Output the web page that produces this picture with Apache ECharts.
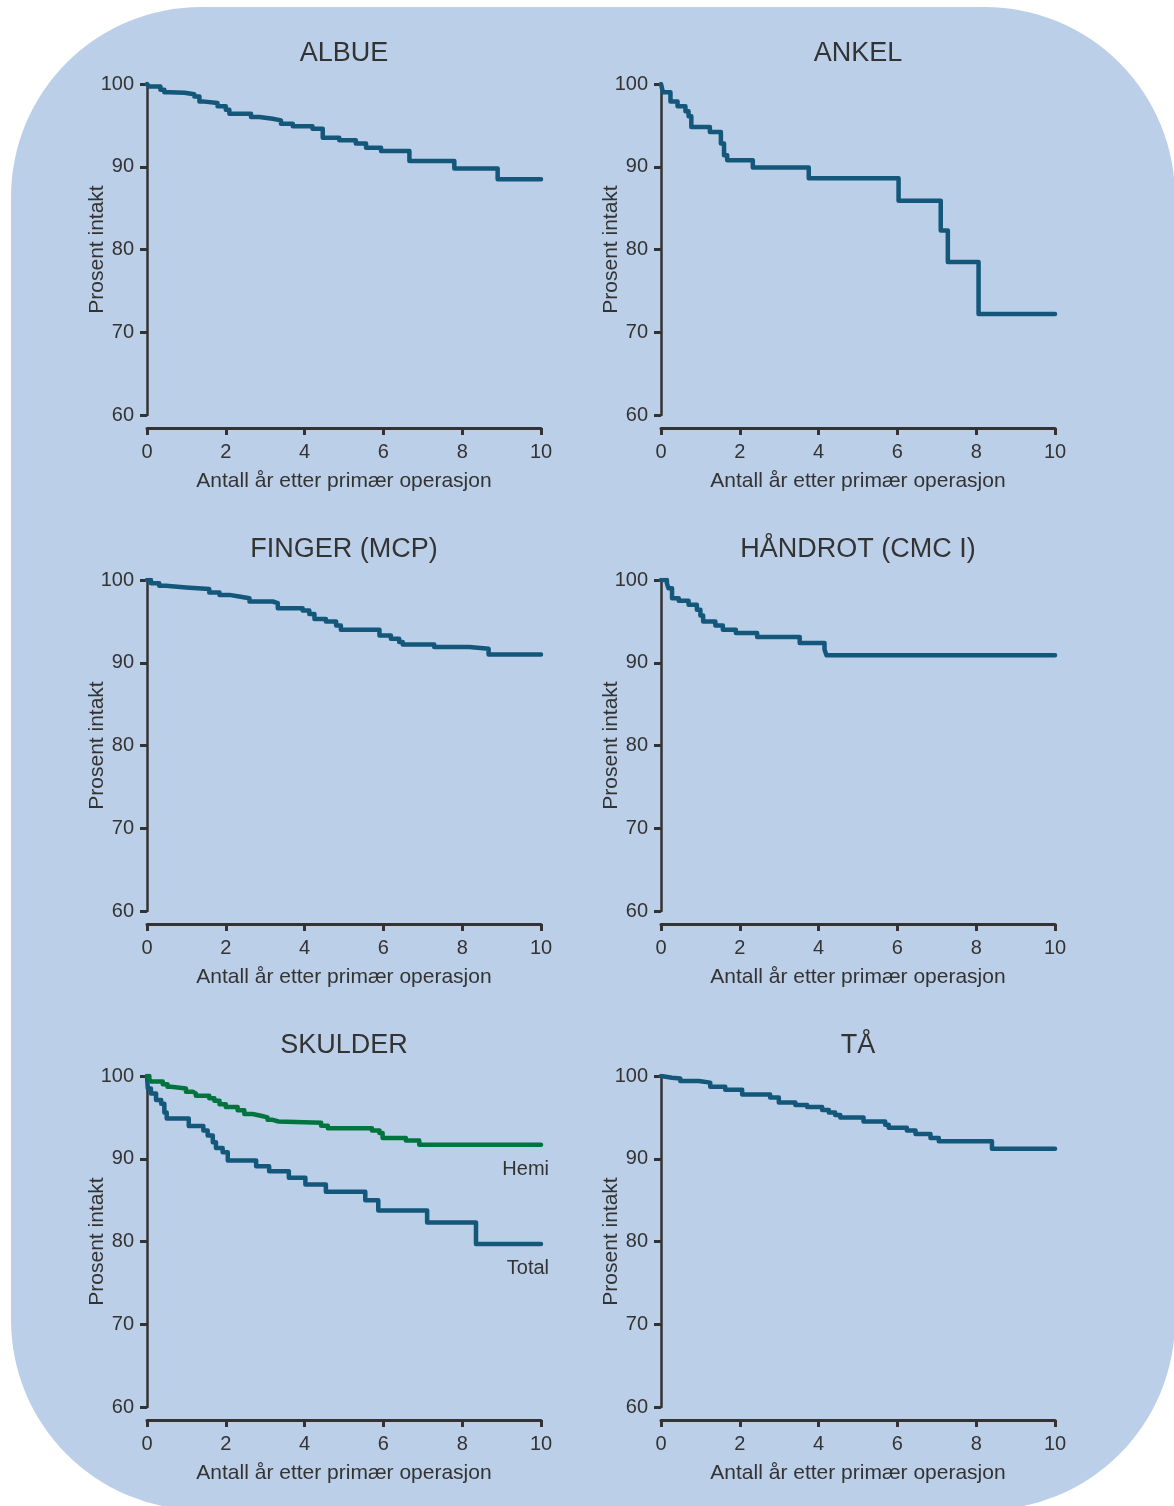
<!DOCTYPE html>
<html>
<head>
<meta charset="utf-8">
<script src="https://cdn.jsdelivr.net/npm/echarts@6/dist/echarts.min.js"></script>
<style>
html,body{margin:0;padding:0;background:#fff;}
#c{width:1174px;height:1506px;}
</style>
</head>
<body>
<div id="c"></div>
<script>
// ---- data ----
const panelTitles = ['ALBUE', 'ANKEL', 'FINGER (MCP)', 'HÅNDROT (CMC I)', 'SKULDER', 'TÅ'];
const yAxisName = 'Prosent intakt';
const xAxisName = 'Antall år etter primær operasjon';
const yMin = 60, yMax = 100, yStep = 10;
const xMin = 0, xMax = 10, xStep = 2;

const albueYears  = [0,0.05,0.34,0.44,0.57,0.95,1.2,1.33,1.41,1.79,2.0,2.09,2.64,2.85,3.19,3.4,3.7,4.2,4.46,4.88,5.3,5.56,5.94,6.66,7.8,8.9,10];
const albueValues = [100,99.7,99.3,99.0,98.95,98.75,98.5,97.9,97.7,97.3,96.9,96.4,96.0,95.8,95.6,95.2,94.9,94.6,93.5,93.2,92.8,92.3,91.9,90.7,89.8,88.5,88.5];

const ankelYears  = [0,0.05,0.24,0.42,0.62,0.7,0.77,1.24,1.52,1.6,1.68,2.33,3.75,6.03,7.1,7.28,8.06,10];
const ankelValues = [100,99.0,97.9,97.3,96.7,96.1,94.8,94.2,92.8,91.4,90.8,89.9,88.6,85.9,82.3,78.5,72.2,72.2];

const fingerYears  = [0,0.1,0.31,0.48,0.99,1.58,1.84,2.09,2.34,2.6,3.19,3.32,3.95,4.12,4.25,4.54,4.8,4.92,5.9,6.19,6.4,6.49,7.29,8.18,8.67,10];
const fingerValues = [100,99.6,99.3,99.1,98.9,98.5,98.2,98.0,97.8,97.4,97.2,96.6,96.3,95.9,95.3,95.0,94.5,94.0,93.3,92.9,92.5,92.2,91.9,91.7,91.0,91.0];

const handrotYears  = [0,0.15,0.19,0.28,0.45,0.7,0.91,1.0,1.07,1.38,1.57,1.9,2.44,3.52,4.15,4.2,10];
const handrotValues = [100,99.6,99.0,97.8,97.5,97.0,96.4,95.7,95.0,94.5,94.0,93.6,93.1,92.4,91.6,90.9,90.9];

const skulderTotalYears  = [0,0.02,0.1,0.23,0.36,0.44,0.5,1.06,1.43,1.54,1.67,1.75,1.92,2.05,2.77,3.1,3.6,4.02,4.54,5.54,5.87,7.11,8.35,10];
const skulderTotalValues = [100,98.5,97.9,97.1,96.65,95.6,94.85,93.95,93.4,92.8,92.0,91.3,90.8,89.8,89.1,88.5,87.7,86.9,86.0,85.0,83.75,82.3,79.7,79.7];

const skulderHemiYears  = [0,0.06,0.1,0.4,0.52,0.61,0.99,1.16,1.24,1.58,1.71,1.84,2.0,2.3,2.47,2.68,2.89,3.06,3.19,3.34,4.42,4.59,5.71,5.9,5.98,6.57,6.91,10];
const skulderHemiValues = [100,99.6,99.35,99.0,98.7,98.5,98.1,97.9,97.6,97.3,97.0,96.6,96.25,95.85,95.4,95.2,95.0,94.7,94.5,94.35,94.0,93.7,93.4,93.1,92.5,92.2,91.7,91.7];

const taYears  = [0,0.05,0.28,0.49,0.96,1.25,1.63,2.06,2.77,2.99,3.41,3.71,4.09,4.26,4.42,4.55,5.14,5.69,5.78,6.24,6.46,6.84,7.05,8.4,10];
const taValues = [100,99.8,99.7,99.4,99.2,98.7,98.35,97.75,97.4,96.8,96.5,96.25,95.9,95.6,95.3,95.0,94.5,94.1,93.75,93.4,93.0,92.5,92.1,91.2,91.2];

// ---- build ----
const BLUE = '#13577a';
const GREEN = '#00743f';
const TXT = '#333333';
const FONT = '"Liberation Sans", Arial, Helvetica, sans-serif';

function zip(xs, ys) { return xs.map((x, i) => [x, ys[i]]); }

const panelSeries = [
  [{ name: 'ALBUE', data: zip(albueYears, albueValues), color: BLUE }],
  [{ name: 'ANKEL', data: zip(ankelYears, ankelValues), color: BLUE }],
  [{ name: 'FINGER', data: zip(fingerYears, fingerValues), color: BLUE }],
  [{ name: 'HÅNDROT', data: zip(handrotYears, handrotValues), color: BLUE }],
  [{ name: 'Total', data: zip(skulderTotalYears, skulderTotalValues), color: BLUE, label: 'Total' },
   { name: 'Hemi', data: zip(skulderHemiYears, skulderHemiValues), color: GREEN, label: 'Hemi' }],
  [{ name: 'TÅ', data: zip(taYears, taValues), color: BLUE }]
];

const colLeft = [147, 661];
const rowTop = [84, 580, 1076];
const gw = 394, gh = 331;

const grids = [], xAxes = [], yAxes = [], series = [], titles = [];
panelTitles.forEach((t, i) => {
  const col = i % 2, row = Math.floor(i / 2);
  grids.push({ left: colLeft[col], top: rowTop[row], width: gw, height: gh, containLabel: false });
  titles.push({
    text: t, left: colLeft[col] + gw / 2, top: rowTop[row] - 44, textAlign: 'center', padding: 0,
    textStyle: { fontFamily: FONT, fontSize: 27, fontWeight: 'normal', color: TXT }
  });
  xAxes.push({
    gridIndex: i, type: 'value', min: xMin, max: xMax, interval: xStep, offset: 13,
    name: xAxisName, nameLocation: 'middle', nameGap: 43, nameMoveOverlap: false,
    nameTextStyle: { fontFamily: FONT, fontSize: 21, color: TXT },
    axisLine: { onZero: false, lineStyle: { color: '#333', width: 3 } },
    axisTick: { inside: false, length: 7, lineStyle: { color: '#333', width: 3 } },
    axisLabel: { margin: 14, fontFamily: FONT, fontSize: 20, color: TXT },
    splitLine: { show: false }
  });
  yAxes.push({
    gridIndex: i, type: 'value', min: yMin, max: yMax, interval: yStep,
    name: yAxisName, nameLocation: 'middle', nameGap: 39, nameMoveOverlap: false,
    nameTextStyle: { fontFamily: FONT, fontSize: 21, color: TXT },
    axisLine: { show: true, lineStyle: { color: '#333', width: 2.5 } },
    axisTick: { show: true, inside: false, length: 7, lineStyle: { color: '#333', width: 3 } },
    axisLabel: { margin: 13, fontFamily: FONT, fontSize: 20, color: TXT },
    splitLine: { show: false }
  });
  panelSeries[i].forEach(s => {
    const ser = {
      type: 'line', name: s.name, xAxisIndex: i, yAxisIndex: i, step: 'end',
      data: s.data, showSymbol: false, symbol: 'none', silent: true, animation: false,
      lineStyle: { color: s.color, width: 4.5, cap: 'round', join: 'round' }
    };
    if (s.label) {
      ser.endLabel = {
        show: true, formatter: s.label, align: 'right', verticalAlign: 'middle',
        offset: [0, 25], fontFamily: FONT, fontSize: 20, color: TXT
      };
    }
    series.push(ser);
  });
});

const chart = echarts.init(document.getElementById('c'), null, { renderer: 'canvas' });
chart.setOption({
  backgroundColor: '#ffffff',
  animation: false,
  graphic: [{
    type: 'rect', z: -10, silent: true,
    shape: { x: 11, y: 7, width: 1164, height: 1503, r: 190 },
    style: { fill: '#bccfe8' }
  }],
  title: titles,
  grid: grids,
  xAxis: xAxes,
  yAxis: yAxes,
  series: series
});
</script>
</body>
</html>
